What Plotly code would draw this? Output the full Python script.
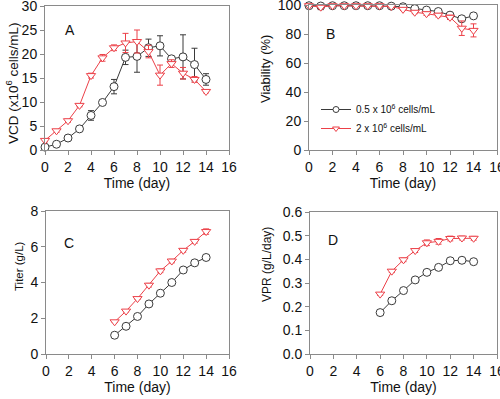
import plotly.graph_objects as go

days = list(range(0, 15))
days_late = list(range(6, 15))

vcd_low = [0.6, 1.2, 2.5, 4.4, 7.2, 9.9, 13.2, 19.3, 19.5, 21.3, 21.7, 19.0, 19.4, 17.8, 14.7]
vcd_low_err = [0.2, 0.2, 0.3, 0.3, 1.0, 0.3, 1.5, 1.5, 3.3, 1.8, 2.1, 0.5, 4.6, 3.4, 1.2]
vcd_high = [2.0, 4.0, 6.1, 9.3, 15.5, 19.2, 21.3, 22.3, 22.6, 20.5, 15.6, 18.0, 16.0, 14.7, 12.2]
vcd_high_err = [0.3, 0.3, 0.3, 0.3, 0.5, 0.7, 0.6, 2.0, 2.4, 1.3, 2.1, 0.8, 1.2, 0.6, 0.3]

via_low = [99.5, 99.3, 99.5, 99.5, 99.5, 99.5, 99.5, 99.2, 98.8, 97.5, 96.5, 95.5, 93.0, 90.5, 92.5]
via_low_err = [0.3, 2.5, 0.3, 0.3, 0.3, 0.3, 0.3, 0.3, 0.3, 0.3, 0.3, 0.3, 0.5, 0.5, 0.3]
via_high = [99.5, 98.5, 99.5, 99.5, 99.5, 99.5, 99.5, 99.0, 97.0, 95.0, 94.0, 93.0, 91.5, 84.0, 82.5]
via_high_err = [0.3, 1.0, 0.3, 0.3, 0.3, 0.3, 0.8, 0.5, 0.8, 1.0, 1.2, 1.2, 1.5, 5.0, 4.5]

titer_low = [1.05, 1.55, 2.1, 2.8, 3.4, 4.0, 4.7, 5.1, 5.4]
titer_low_err = [0.03, 0.03, 0.03, 0.04, 0.04, 0.04, 0.05, 0.05, 0.05]
titer_high = [1.8, 2.4, 3.1, 3.85, 4.65, 5.2, 5.8, 6.3, 6.85]
titer_high_err = [0.04, 0.05, 0.05, 0.1, 0.1, 0.1, 0.1, 0.1, 0.15]

vpr_low = [0.175, 0.225, 0.268, 0.313, 0.345, 0.366, 0.394, 0.396, 0.390]
vpr_low_err = [0.012, 0.008, 0.005, 0.005, 0.005, 0.005, 0.005, 0.005, 0.005]
vpr_high = [0.253, 0.350, 0.398, 0.437, 0.470, 0.476, 0.488, 0.490, 0.489]
vpr_high_err = [0.005, 0.006, 0.008, 0.008, 0.012, 0.012, 0.010, 0.008, 0.008]

names = ["0.5 x 10<sup>6</sup> cells/mL", "2 x 10<sup>6</sup> cells/mL"]
y_titles = ["VCD (x10<sup>6</sup> cells/mL)", "Viability (%)", "Titer (g/L)", "VPR (g/L/day)"]
BLACK = "#3a3a3a"
RED = "#ec4048"
FRAME = "#8a8a8a"

fig = go.Figure()

def add(x, y, err, color, symbol, name, xa, ya):
    fig.add_trace(go.Scatter(
        x=x, y=y, mode="lines+markers", name=name, showlegend=False,
        line=dict(color=color, width=1),
        marker=dict(symbol=symbol, size=8, color="white", line=dict(color=color, width=1)),
        error_y=dict(type="data", array=err, color=color, thickness=1, width=3),
        xaxis=xa, yaxis=ya, cliponaxis=False))

add(days, vcd_low, vcd_low_err, BLACK, "circle", names[0], "x", "y")
add(days, vcd_high, vcd_high_err, RED, "triangle-down", names[1], "x", "y")
add(days, via_low, via_low_err, BLACK, "circle", names[0], "x2", "y2")
add(days, via_high, via_high_err, RED, "triangle-down", names[1], "x2", "y2")
add(days_late, titer_low, titer_low_err, BLACK, "circle", names[0], "x3", "y3")
add(days_late, titer_high, titer_high_err, RED, "triangle-down", names[1], "x3", "y3")
add(days_late, vpr_low, vpr_low_err, BLACK, "circle", names[0], "x4", "y4")
add(days_late, vpr_high, vpr_high_err, RED, "triangle-down", names[1], "x4", "y4")

# legend entries (smaller symbols, as in the reference legend)
for name, color, symbol in [(names[0], BLACK, "circle"), (names[1], RED, "triangle-down")]:
    fig.add_trace(go.Scatter(
        x=[None], y=[None], mode="lines+markers", name=name, showlegend=True,
        line=dict(color=color, width=1),
        marker=dict(symbol=symbol, size=6, color="white", line=dict(color=color, width=1)),
        xaxis="x2", yaxis="y2"))

W, H = 500, 399
def px(a, b):
    return [a / W, b / W]
def py(top, bottom):
    return [(H - bottom) / H, (H - top) / H]

font = dict(family="Liberation Sans, Arial, sans-serif", size=14, color="#111")
xcommon = dict(range=[0, 16], dtick=2, tick0=0, ticks="outside", ticklen=4, tickcolor=FRAME,
               showline=True, linecolor=FRAME, linewidth=1, mirror=True, showgrid=False,
               zeroline=False, automargin=False, ticklabeloverflow="allow",
               title=dict(text="Time (day)", font=dict(size=14), standoff=4))
ycommon = dict(ticks="outside", ticklen=4, tickcolor=FRAME, showline=True, linecolor=FRAME,
               linewidth=1, mirror=True, showgrid=False, zeroline=False, automargin=False,
               ticklabeloverflow="allow")

fig.update_layout(
    template="none",
    width=W, height=H, margin=dict(l=0, r=0, t=0, b=0),
    paper_bgcolor="white", plot_bgcolor="white", font=font,
    xaxis=dict(domain=px(45, 229), anchor="y", **xcommon),
    yaxis=dict(domain=py(6, 150), anchor="x", range=[0, 30], dtick=5, **ycommon),
    xaxis2=dict(domain=px(309, 497), anchor="y2", **xcommon),
    yaxis2=dict(domain=py(5, 150), anchor="x2", range=[0, 100], dtick=20, **ycommon),
    xaxis3=dict(domain=px(46, 229), anchor="y3", **xcommon),
    yaxis3=dict(domain=py(211, 354), anchor="x3", range=[0, 8], dtick=2, **ycommon),
    xaxis4=dict(domain=px(310, 497), anchor="y4", **xcommon),
    yaxis4=dict(domain=py(212, 354), anchor="x4", range=[0, 0.6], dtick=0.1, tickformat=".1f",
                **ycommon),
    legend=dict(x=316 / W, y=1 - 95 / H, xanchor="left", yanchor="top",
                bgcolor="rgba(0,0,0,0)", font=dict(size=10), itemwidth=30,
                tracegroupgap=0),
)

# y-axis titles (placed as in the reference)
title_pos = [(12, 83, 13.5), (266, 69, 13), (19, 266, 11.5), (267, 265, 12)]
for t, (xp, yp, fs) in zip(y_titles, title_pos):
    fig.add_annotation(text=t, x=xp / W, y=1 - yp / H, xref="paper", yref="paper",
                       textangle=-90, showarrow=False, xanchor="center", yanchor="middle",
                       font=dict(size=fs, color="#111"))

labels = [("A", "x", "y", 2.2, 25), ("B", "x2", "y2", 1.8, 80),
          ("C", "x3", "y3", 2.0, 6.2), ("D", "x4", "y4", 2.0, 0.48)]
for t, xa, ya, xv, yv in labels:
    fig.add_annotation(text=t, x=xv, y=yv, xref=xa, yref=ya, showarrow=False,
                       font=dict(size=14, color="#111"))

fig.write_html("out.html", config={"displayModeBar": False},
               post_script="document.body.style.margin='0';document.body.style.overflow='hidden';")
